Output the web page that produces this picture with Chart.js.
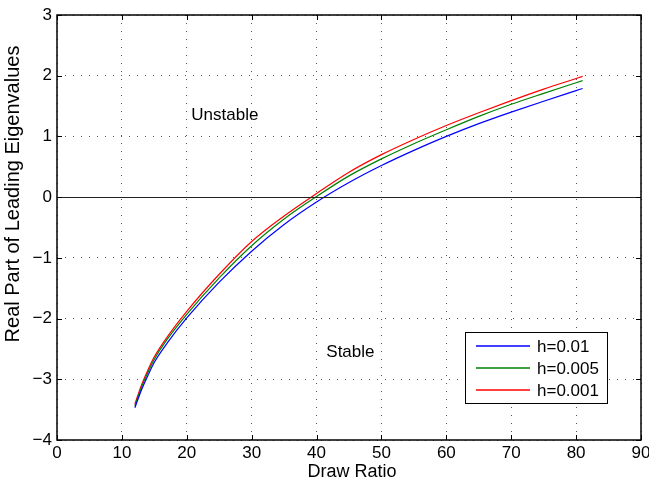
<!DOCTYPE html>
<html>
<head>
<meta charset="utf-8">
<script src="https://cdn.jsdelivr.net/npm/chart.js@4.4.0/dist/chart.umd.min.js"></script>
<style>
  html, body { margin: 0; padding: 0; background: #fff; }
  #wrap { width: 649px; height: 485px; }
</style>
</head>
<body>
<div id="wrap"><canvas id="chart" width="649" height="485"></canvas></div>
<script>
// values
const drawRatio = [12, 13, 14, 15, 17, 20, 25, 30, 35, 40, 45, 50, 55, 60, 65, 70, 75, 80, 81];
const eigH01  = [-3.47, -3.18, -2.94, -2.72, -2.40, -1.99, -1.40, -0.89, -0.45, -0.08, 0.24, 0.52, 0.77, 1.00, 1.21, 1.40, 1.58, 1.755, 1.79];
const eigH005 = [-3.44, -3.14, -2.89, -2.67, -2.34, -1.93, -1.33, -0.80, -0.36, 0.01, 0.35, 0.63, 0.88, 1.11, 1.33, 1.53, 1.71, 1.885, 1.92];
const eigH001 = [-3.41, -3.10, -2.85, -2.63, -2.30, -1.88, -1.27, -0.73, -0.31, 0.06, 0.41, 0.70, 0.95, 1.18, 1.39, 1.59, 1.78, 1.955, 1.99];

const seriesLabels = ['h=0.01', 'h=0.005', 'h=0.001'];
const seriesColors = ['#0000ff', '#008000', '#ff0000'];

const xTicks = [0, 10, 20, 30, 40, 50, 60, 70, 80, 90];
const yTicks = [-4, -3, -2, -1, 0, 1, 2, 3];

const regionLabels = ['Unstable', 'Stable'];
const regionX = [20.7, 41.5];
const regionY = [1.35, -2.56];

const FONT = '"Liberation Sans", Arial, Helvetica, sans-serif';

function pts(ys) {
  return drawRatio.map((x, i) => ({ x: x, y: ys[i] }));
}

const matlabFrame = {
  id: 'matlabFrame',
  afterDatasetsDraw(chart) {
    const ctx = chart.ctx;
    const a = chart.chartArea;
    const xs = chart.scales.x, ys = chart.scales.y;
    ctx.save();
    ctx.setLineDash([]);

    // zero line
    const y0 = Math.round(ys.getPixelForValue(0)) + 0.5;
    ctx.strokeStyle = '#222';
    ctx.lineWidth = 1;
    ctx.beginPath();
    ctx.moveTo(a.left, y0);
    ctx.lineTo(a.right, y0);
    ctx.stroke();

    // box + inward ticks
    ctx.strokeStyle = '#000';
    ctx.lineWidth = 1.5;
    ctx.strokeRect(a.left, a.top, a.right - a.left, a.bottom - a.top);
    ctx.lineWidth = 1;
    ctx.beginPath();
    xTicks.forEach(v => {
      const px = Math.round(xs.getPixelForValue(v)) + 0.5;
      ctx.moveTo(px, a.bottom); ctx.lineTo(px, a.bottom - 5);
      ctx.moveTo(px, a.top); ctx.lineTo(px, a.top + 5);
    });
    yTicks.forEach(v => {
      const py = Math.round(ys.getPixelForValue(v)) + 0.5;
      ctx.moveTo(a.left, py); ctx.lineTo(a.left + 5, py);
      ctx.moveTo(a.right, py); ctx.lineTo(a.right - 5, py);
    });
    ctx.stroke();

    // region text
    ctx.fillStyle = '#000';
    ctx.font = '17px ' + FONT;
    ctx.textAlign = 'left';
    ctx.textBaseline = 'middle';
    regionLabels.forEach((t, i) => {
      ctx.fillText(t, xs.getPixelForValue(regionX[i]), ys.getPixelForValue(regionY[i]));
    });

    // legend
    const lx = 465.5, ly = 332.5, lw = 142, lh = 71;
    ctx.fillStyle = '#fff';
    ctx.fillRect(lx, ly, lw, lh);
    ctx.strokeStyle = '#000';
    ctx.lineWidth = 1;
    ctx.strokeRect(lx, ly, lw, lh);
    seriesLabels.forEach((t, i) => {
      const ry = Math.round(ly + 13 + i * 22);
      ctx.beginPath();
      ctx.strokeStyle = seriesColors[i];
      ctx.lineWidth = 1.3;
      ctx.moveTo(476, ry);
      ctx.lineTo(530, ry);
      ctx.stroke();
      ctx.fillStyle = '#000';
      ctx.fillText(t, 537, ry + 1);
    });

    // axis titles
    ctx.textAlign = 'center';
    ctx.textBaseline = 'alphabetic';
    ctx.font = '18px ' + FONT;
    ctx.fillText('Draw Ratio', 352, 477);
    ctx.font = '20px ' + FONT;
    ctx.translate(19, 194);
    ctx.rotate(-Math.PI / 2);
    ctx.fillText('Real Part of Leading Eigenvalues', 0, 0);
    ctx.restore();
  }
};

function fixedTicks(list) {
  return scale => { scale.ticks = list.map(v => ({ value: v })); };
}

new Chart(document.getElementById('chart'), {
  type: 'line',
  data: {
    datasets: [eigH01, eigH005, eigH001].map((d, i) => ({
      label: seriesLabels[i],
      data: pts(d),
      borderColor: seriesColors[i],
      borderWidth: 1.2,
      pointRadius: 0,
      fill: false,
      cubicInterpolationMode: 'monotone'
    }))
  },
  options: {
    responsive: false,
    animation: false,
    devicePixelRatio: 1,
    layout: { padding: { top: 15, right: 8, left: 0, bottom: 0 } },
    plugins: { legend: { display: false }, tooltip: { enabled: false } },
    scales: {
      x: {
        type: 'linear', min: 0, max: 90,
        afterBuildTicks: fixedTicks(xTicks),
        afterFit(s) { s.height = 45; s.paddingLeft = 0; s.paddingRight = 0; },
        ticks: { color: '#000', padding: 3, maxRotation: 0, autoSkip: false,
                 font: { family: FONT, size: 17 } },
        grid: { color: '#555', drawTicks: false, tickLength: 0 },
        border: { display: false, dash: [1, 7] }
      },
      y: {
        type: 'linear', min: -4, max: 3,
        afterBuildTicks: fixedTicks(yTicks),
        afterFit(s) { s.width = 57; s.paddingTop = 0; s.paddingBottom = 0; },
        ticks: { color: '#000', padding: 5, autoSkip: false,
                 font: { family: FONT, size: 17 },
                 callback: v => String(v).replace('-', '\u2212') },
        grid: { color: '#555', drawTicks: false, tickLength: 0 },
        border: { display: false, dash: [1, 7] }
      }
    }
  },
  plugins: [matlabFrame]
});
</script>
</body>
</html>
